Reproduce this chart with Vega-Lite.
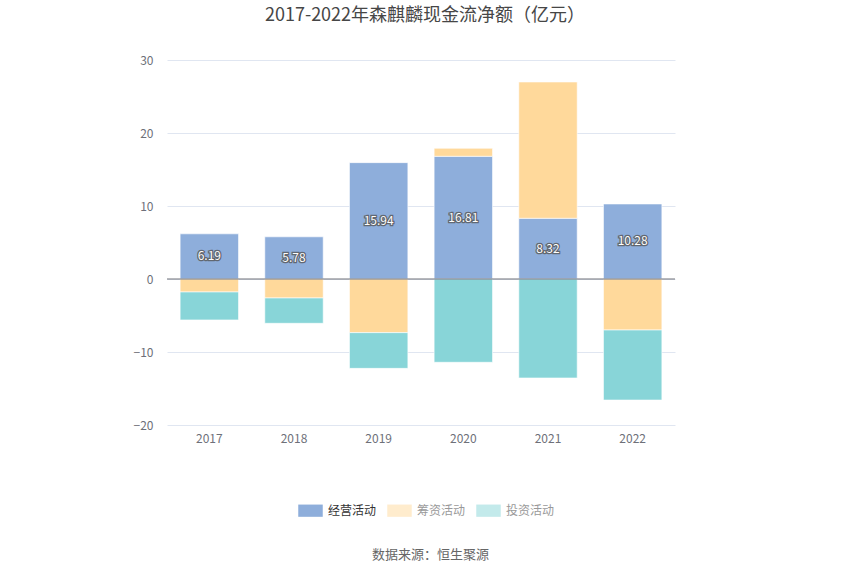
{
  "$schema": "https://vega.github.io/schema/vega-lite/v6.json",
  "width": 508,
  "height": 365,
  "autosize": {"type": "none"},
  "padding": {"left": 167, "top": 60, "right": 175, "bottom": 150},
  "background": "white",
  "config": {
    "font": "Noto Sans CJK SC",
    "view": {"stroke": null}
  },
  "title": {
    "text": "2017-2022年森麒麟现金流净额（亿元）",
    "fontSize": 18,
    "fontWeight": "normal",
    "color": "#464646",
    "anchor": "middle",
    "offset": 29,
    "dx": 4
  },
  "data": {
    "values": [
      {"year": "2017", "type": "经营活动", "value": 6.19, "ord": 0},
      {"year": "2017", "type": "筹资活动", "value": -1.78, "ord": 1},
      {"year": "2017", "type": "投资活动", "value": -3.83, "ord": 2},
      {"year": "2018", "type": "经营活动", "value": 5.78, "ord": 0},
      {"year": "2018", "type": "筹资活动", "value": -2.6, "ord": 1},
      {"year": "2018", "type": "投资活动", "value": -3.47, "ord": 2},
      {"year": "2019", "type": "经营活动", "value": 15.94, "ord": 0},
      {"year": "2019", "type": "筹资活动", "value": -7.35, "ord": 1},
      {"year": "2019", "type": "投资活动", "value": -4.89, "ord": 2},
      {"year": "2020", "type": "经营活动", "value": 16.81, "ord": 0},
      {"year": "2020", "type": "筹资活动", "value": 1.1, "ord": 1},
      {"year": "2020", "type": "投资活动", "value": -11.41, "ord": 2},
      {"year": "2021", "type": "经营活动", "value": 8.32, "ord": 0},
      {"year": "2021", "type": "筹资活动", "value": 18.67, "ord": 1},
      {"year": "2021", "type": "投资活动", "value": -13.56, "ord": 2},
      {"year": "2022", "type": "经营活动", "value": 10.28, "ord": 0},
      {"year": "2022", "type": "筹资活动", "value": -6.99, "ord": 1},
      {"year": "2022", "type": "投资活动", "value": -9.59, "ord": 2}
    ]
  },
  "layer": [
    {
      "mark": {"type": "bar", "stroke": "white", "strokeWidth": 1, "strokeOpacity": 0.6},
      "encoding": {
        "x": {
          "field": "year",
          "type": "ordinal",
          "scale": {"paddingInner": 0.31, "paddingOuter": 0.155},
          "axis": {
            "labelAngle": 0,
            "labelColor": "#6e7079",
            "labelFontSize": 12,
            "labelPadding": 8,
            "domain": false,
            "ticks": false,
            "title": "数据来源：恒生聚源",
            "titleFontSize": 13,
            "titleFontWeight": "normal",
            "titleColor": "#666666",
            "titleAnchor": "start",
            "titleAlign": "center",
            "titleBaseline": "middle",
            "titleX": 263,
            "titleY": 129
          }
        },
        "y": {
          "field": "value",
          "type": "quantitative",
          "stack": "zero",
          "scale": {"domain": [-20, 30], "nice": false},
          "axis": {
            "values": [-20, -10, 0, 10, 20, 30],
            "title": null,
            "domain": false,
            "ticks": false,
            "labelColor": "#6e7079",
            "labelFontSize": 12,
            "labelPadding": 14,
            "gridColor": "#e0e6f1"
          }
        },
        "color": {
          "field": "type",
          "type": "nominal",
          "scale": {
            "domain": ["经营活动", "筹资活动", "投资活动"],
            "range": ["#8eaedb", "#ffd99b", "#88d5d8"]
          },
          "legend": {
            "orient": "none",
            "direction": "horizontal",
            "legendX": 131,
            "legendY": 438,
            "title": null,
            "symbolType": "M-1,-0.5 h2 v1 h-2 Z",
            "symbolSize": 600,
            "symbolStrokeWidth": 0,
            "labelFontSize": 12,
            "labelOffset": 5,
            "columnPadding": 10,
            "symbolOpacity": {"expr": "datum.value === '经营活动' ? 1 : 0.5"},
            "labelColor": {"expr": "datum.value === '经营活动' ? '#333333' : '#999999'"}
          }
        },
        "order": {"field": "ord", "type": "quantitative"}
      }
    },
    {
      "mark": {"type": "rule", "color": "#6e7079", "strokeWidth": 1},
      "data": {"values": [{"z": 0}]},
      "encoding": {"y": {"field": "z", "type": "quantitative"}}
    },
    {
      "transform": [
        {"filter": "datum.type === '经营活动'"},
        {"calculate": "datum.value / 2", "as": "mid"}
      ],
      "mark": {"type": "text", "fontSize": 12, "stroke": "#555555", "strokeWidth": 2.5, "strokeOpacity": 0.8, "fill": "#555555"},
      "encoding": {
        "x": {"field": "year", "type": "ordinal"},
        "y": {"field": "mid", "type": "quantitative"},
        "text": {"field": "value", "type": "quantitative", "format": ".2f"}
      }
    },
    {
      "transform": [
        {"filter": "datum.type === '经营活动'"},
        {"calculate": "datum.value / 2", "as": "mid"}
      ],
      "mark": {"type": "text", "fontSize": 12, "fill": "white"},
      "encoding": {
        "x": {"field": "year", "type": "ordinal"},
        "y": {"field": "mid", "type": "quantitative"},
        "text": {"field": "value", "type": "quantitative", "format": ".2f"}
      }
    }
  ]
}
